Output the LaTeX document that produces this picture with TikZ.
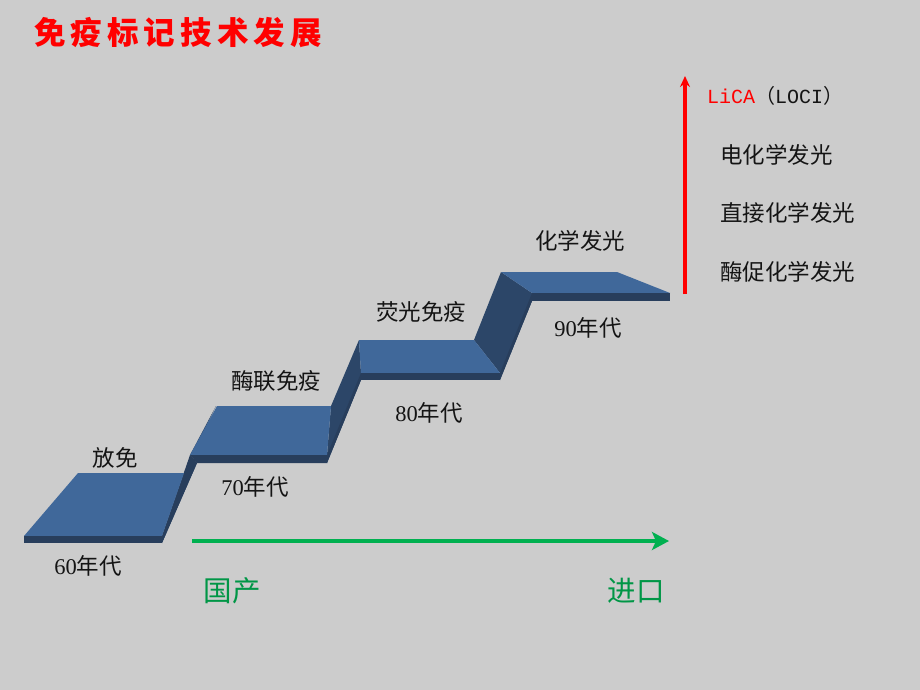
\documentclass[tikz,border=0pt]{standalone}
\usepackage{fontspec}
\setmainfont{Liberation Serif}
\newfontfamily\cjk{Noto Sans CJK SC}
\newfontfamily\monof{Liberation Mono}
\usetikzlibrary{arrows.meta}
\definecolor{bgc}{RGB}{204,204,204}
\definecolor{topblue}{RGB}{64,104,154}
\definecolor{frontdark}{RGB}{40,62,92}
\definecolor{riserdark}{RGB}{44,70,104}
\definecolor{gline}{RGB}{0,176,80}
\definecolor{gtext}{RGB}{0,150,70}
\definecolor{txt}{RGB}{20,20,20}
\newcommand\cj[1]{{\cjk #1}}
\tikzset{
  topface/.style={fill=topblue},
  frontface/.style={fill=frontdark},
  riserface/.style={fill=riserdark},
  lbl/.style={inner sep=0pt,text=txt,font=\fontsize{22.5}{26}\selectfont},
  rlbl/.style={inner sep=0pt,text=txt,anchor=west,font=\fontsize{22.5}{26}\selectfont},
  glbl/.style={inner sep=0pt,text=gtext,font=\fontsize{28.5}{32}\selectfont},
  titlest/.style={inner sep=0pt,text=red,font=\fontsize{31.5}{34}\selectfont\cjk\bfseries\addfontfeature{LetterSpace=16}},
}
\begin{document}
\begin{tikzpicture}[x=1pt,y=-1pt]
\fill[bgc] (0,0) rectangle (920,690);
\useasboundingbox (0,0) rectangle (920,690);

% risers
\fill[riserface] (184,473) -- (162,536) -- (162,543) -- (197,463) -- (190,455) -- (216,406) -- cycle;
\fill[frontface] (162,536) -- (162,543) -- (197,463) -- (190,455) -- cycle;
\fill[riserface] (331,406) -- (327,455) -- (327,463) -- (361,380) -- (361,373) -- (359,340) -- cycle;
\fill[frontface] (327,455) -- (327,463) -- (361,380) -- (361,373) -- cycle;
\fill[riserface] (474,340) -- (500,373) -- (500,380) -- (532,301) -- (532,293) -- (501,272) -- cycle;
\fill[frontface] (500,373) -- (500,380) -- (532,301) -- (532,293) -- cycle;

% step 1
\fill[topface] (78,473) -- (184,473) -- (162,536) -- (24,536) -- cycle;
\fill[frontface] (24,536) rectangle (162,543);
% step 2
\fill[topface] (217,406) -- (331,406) -- (327,455) -- (190,455) -- cycle;
\fill[frontface] (190,455) -- (327,455) -- (327,463) -- (197,463) -- cycle;
% step 3
\fill[topface] (359,340) -- (474,340) -- (500,373) -- (361,373) -- cycle;
\fill[frontface] (361,373) rectangle (500,380);
% step 4
\fill[topface] (501,272) -- (617,272) -- (670,293) -- (532,293) -- cycle;
\fill[frontface] (532,293) rectangle (670,301);

% title
\node[titlest] (title) at (178,33) {免疫标记技术发展};

% step labels
\node[lbl] (fm) at (115,458) {\cj{放免}};
\node[lbl] (y60) at (88,566) {60\cj{年代}};
\node[lbl] (y70) at (255,487) {70\cj{年代}};
\node[lbl] (ml) at (276,381) {\cj{酶联免疫}};
\node[lbl] (yg) at (421,312) {\cj{荧光免疫}};
\node[lbl] (y80) at (429,413) {80\cj{年代}};
\node[lbl] (hx) at (580,241) {\cj{化学发光}};
\node[lbl] (y90) at (588,328) {90\cj{年代}};

% right list
\node[rlbl,font=\fontsize{20}{23}\selectfont] (lica) at (707,96) {\monof\textcolor{red}{LiCA}\cj{（}LOCI\cj{）}};
\node[rlbl] (d1) at (720,155) {\cj{电化学发光}};
\node[rlbl] (d2) at (720,213) {\cj{直接化学发光}};
\node[rlbl] (d3) at (720,272) {\cj{酶促化学发光}};

% arrows
\coordinate (rs) at (685,294);
\coordinate (re) at (685,76);
\draw[red,line width=3.5pt,-{Stealth[length=11pt,width=10pt]}] (rs) -- (re);
\coordinate (gs) at (192,541);
\coordinate (ge) at (669,541);
\draw[gline,line width=3.5pt,-{Stealth[length=17pt,width=18pt,inset=4pt]}] (gs) -- (ge);

\node[glbl] (gc) at (232,591) {\cj{国产}};
\node[glbl] (jk) at (636,591) {\cj{进口}};
\end{tikzpicture}
\end{document}
